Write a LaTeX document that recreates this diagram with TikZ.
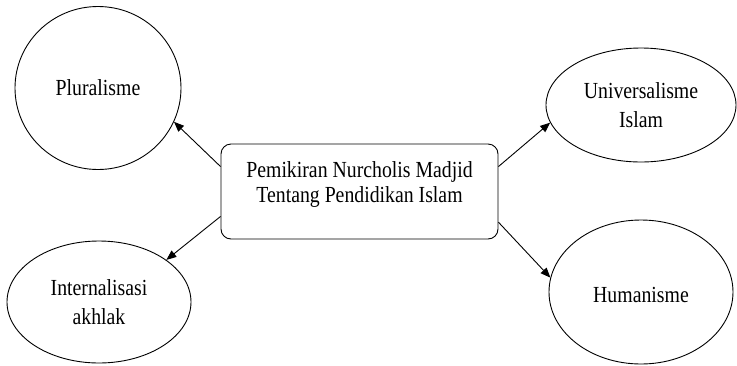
\documentclass[tikz,border=0pt]{standalone}
\usepackage{fontspec}
\setmainfont{Liberation Serif}[FakeStretch=0.86]
\usetikzlibrary{shapes.geometric,arrows.meta,calc}
\begin{document}
\begin{tikzpicture}[x=1pt,y=-1pt,
  bubble/.style={draw,ellipse,line width=0.9pt,inner sep=0pt,align=center,
    font=\fontsize{23}{29}\selectfont},
  mainbox/.style={draw,rounded corners=10pt,line width=0.9pt,inner sep=0pt,align=center,
    minimum width=277pt,minimum height=95pt,font=\fontsize{23}{25}\selectfont},
  link/.style={-{Triangle[length=10pt,width=8pt]},line width=0.9pt}]
\useasboundingbox (0,0) rectangle (737,365);
\node[bubble,minimum width=166pt,minimum height=163pt] (p) at (98,88) {Pluralisme};
\node[bubble,minimum width=184pt,minimum height=122pt] (ia) at (99,302) {Internalisasi\\akhlak};
\node[bubble,minimum width=190pt,minimum height=114pt] (u) at (641,105) {Universalisme\\Islam};
\node[bubble,minimum width=184pt,minimum height=144pt] (h) at (641,292) {\\[-8pt]Humanisme};
\node[mainbox] (c) at (359.5,191.5) {Pemikiran Nurcholis Madjid\\Tentang Pendidikan Islam\\[-6pt]};
\draw[link] ($(c.north west)!0.24!(c.south west)$) -- (p.-24);
\draw[link] ($(c.north west)!0.76!(c.south west)$) -- (ia.32);
\draw[link] ($(c.north east)!0.24!(c.south east)$) -- (u.-169);
\draw[link] ($(c.north east)!0.82!(c.south east)$) -- (h.171);
\end{tikzpicture}
\end{document}
